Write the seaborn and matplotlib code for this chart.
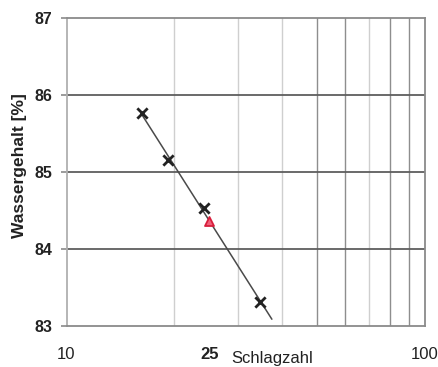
import numpy as np
import pandas as pd
import matplotlib
matplotlib.use("Agg")
import matplotlib.pyplot as plt
import seaborn as sns

# Fließgrenzenversuch: Schlagzahl und Wassergehalt der Einzelversuche
schlagzahl = [16.2, 19.2, 24.2, 34.7]
wassergehalt = [85.77, 85.15, 84.53, 83.31]
# Bereich der Ausgleichsgeraden
geraden_bereich = [16.2, 37.4]
# Bezugsschlagzahl für die Fließgrenze
bezug_schlagzahl = 25

y_ticks = [83, 84, 85, 86, 87]
x_ticks = [10, 25, 100]
x_tick_labels = ["10", "25", "100"]
x_grid = [20, 30, 40, 50, 60, 70, 80, 90]
x_grid_dark = [50, 60, 80, 90]

sns.set_theme(style="white")
plt.rcParams["font.family"] = ["Liberation Sans", "DejaVu Sans"]

fig = plt.figure(figsize=(4.38, 3.67), dpi=100)
ax = fig.add_axes([66.5 / 438, 1 - 326 / 367, (425 - 66.5) / 438, (326 - 18) / 367])
ax.set_xscale("log")
ax.set_xlim(10, 100)
ax.set_ylim(83, 87)

# Gitternetz
for xv in x_grid:
    dark = xv in x_grid_dark
    ax.axvline(xv, color="#8e8e8e" if dark else "#cfcfcf", lw=1.0, zorder=0)
for yv in [84, 85, 86]:
    ax.axhline(yv, color="#5e5e5e", lw=1.3, zorder=0)

for side in ["top", "bottom", "right", "left"]:
    ax.spines[side].set_color("#8a8a8a")
    ax.spines[side].set_linewidth(1.3)
ax.spines["left"].set_color("#b0b0b0")

# Ausgleichsgerade w = a * log10(N) + b
a, b = np.polyfit(np.log10(schlagzahl), wassergehalt, 1)
gx = np.array(geraden_bereich)
geraden = pd.DataFrame({"N": gx, "w": a * np.log10(gx) + b})
sns.lineplot(data=geraden, x="N", y="w", ax=ax, color="#4a4a4a", lw=1.1, zorder=2)

messwerte = pd.DataFrame({"N": schlagzahl, "w": wassergehalt})
sns.scatterplot(data=messwerte, x="N", y="w", ax=ax, marker="x", s=55,
                color="#222222", linewidth=2.0, zorder=3)

fliessgrenze = a * np.log10(bezug_schlagzahl) + b
punkt = pd.DataFrame({"N": [bezug_schlagzahl], "w": [fliessgrenze]})
sns.scatterplot(data=punkt, x="N", y="w", ax=ax, marker="^", s=42,
                color="#f0607a", edgecolor="#d81e3c", linewidth=1.3, zorder=4)

ax.set_yticks(y_ticks)
ax.set_yticklabels([str(t) for t in y_ticks], fontsize=11.5, fontweight="bold", color="#222222")
ax.set_xticks(x_ticks)
ax.set_xticklabels(x_tick_labels, fontsize=12, color="#222222")
ax.xaxis.set_minor_locator(matplotlib.ticker.NullLocator())
for lbl in ax.get_xticklabels():
    if lbl.get_text() == "25":
        lbl.set_fontweight("bold")
ax.tick_params(axis="y", which="major", left=True, length=4, width=1.2, color="#8a8a8a", pad=6)
ax.tick_params(axis="x", which="major", bottom=False, pad=9)

ax.set_xlabel("")
ax.set_ylabel("Wassergehalt [%]", fontsize=12.5, fontweight="bold", color="#222222")
ax.yaxis.set_label_coords(-0.11, 0.52)
fig.text(272 / 438, 1 - 359 / 367, "Schlagzahl", ha="center", va="center",
         fontsize=12, color="#222222")

fig.savefig("out.png", dpi=100)
